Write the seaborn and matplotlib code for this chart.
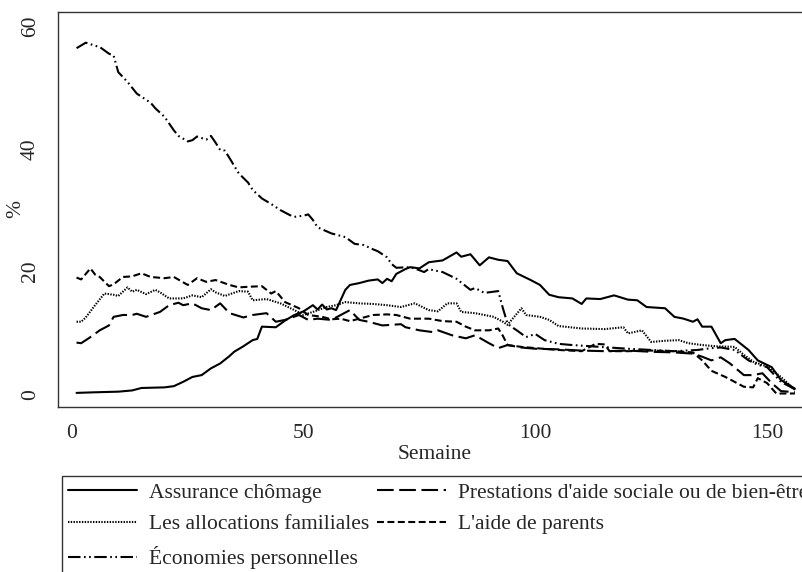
import pandas as pd
import seaborn as sns
import matplotlib.pyplot as plt
from matplotlib.lines import Line2D

# values (weeks, percent)
chomage_weeks = [1, 5, 10, 13, 15, 20, 22, 24, 26, 28, 30, 32, 34, 35, 37, 39, 40, 41, 44, 46,
                 48, 50, 52, 53, 54, 55, 56, 57, 59, 60, 62, 64, 66, 67, 68, 69, 70, 72, 73, 75,
                 77, 80, 83, 84, 86, 88, 90, 92, 94, 96, 99, 101, 103, 105, 108, 110, 111, 114,
                 117, 120, 122, 124, 128, 130, 132, 134, 135, 136, 138, 140, 141, 143, 146, 148,
                 151, 153, 156]
chomage_pct = [0.2, 0.3, 0.4, 0.6, 1.0, 1.1, 1.3, 2.0, 2.8, 3.1, 4.2, 5.0, 6.2, 6.9, 7.8, 8.8, 9.0,
               11.0, 10.9, 12.0, 12.9, 13.5, 14.5, 13.8, 14.6, 13.8, 14.0, 13.7, 17.0, 17.8, 18.1,
               18.5, 18.7, 18.1, 18.8, 18.4, 19.6, 20.4, 20.7, 20.5, 21.5, 21.8, 23.1, 22.4, 22.8,
               21.0, 22.3, 21.9, 21.7, 19.7, 18.6, 17.8, 16.2, 15.8, 15.6, 14.7, 15.6, 15.5, 16.1,
               15.4, 15.3, 14.2, 14.0, 12.6, 12.3, 11.8, 12.2, 11.0, 11.0, 8.3, 8.8, 9.0, 7.2, 5.5,
               4.4, 2.3, 0.9]

social_weeks = [1, 2, 4, 6, 8, 9, 11, 13, 14, 16, 19, 21, 23, 24, 26, 28, 30, 32, 34, 37, 39, 42,
                44, 46, 49, 51, 53, 56, 58, 60, 62, 64, 67, 71, 72, 75, 78, 79, 82, 85, 87, 90,
                92, 94, 97, 100, 105, 110, 115, 120, 125, 130, 134, 136, 138, 140, 142, 145, 147,
                149, 151, 153, 156]
social_pct = [8.4, 8.3, 9.3, 10.4, 11.2, 12.6, 12.9, 12.9, 13.1, 12.6, 13.4, 14.5, 14.9, 14.5,
              14.8, 14.0, 13.7, 14.8, 13.2, 12.5, 12.9, 13.2, 11.8, 12.1, 12.9, 12.1, 12.3, 12.1,
              12.9, 13.7, 12.1, 11.8, 11.2, 11.4, 10.9, 10.4, 10.1, 10.4, 9.6, 9.1, 9.6, 8.3, 7.5,
              8.0, 7.6, 7.4, 7.3, 7.1, 7.0, 7.1, 6.9, 6.8, 6.6, 6.1, 5.5, 6.0, 5.0, 3.1, 3.1, 3.4,
              1.8, 0.5, 0.3]

famille_weeks = [1, 2, 3, 5, 7, 9, 10, 12, 13, 14, 16, 18, 19, 21, 24, 26, 28, 30, 31, 33, 36,
                 38, 39, 42, 45, 48, 50, 52, 55, 57, 59, 62, 65, 68, 71, 74, 77, 79, 81, 83, 84,
                 87, 91, 93, 94, 97, 98, 101, 103, 105, 110, 115, 119, 120, 123, 125, 128, 131,
                 133, 136, 139, 143, 145, 147, 150, 153, 156]
famille_pct = [11.8, 11.8, 12.5, 14.5, 16.4, 16.2, 16.0, 17.4, 16.7, 17.0, 16.3, 17.0, 16.6, 15.6,
               15.6, 16.1, 15.8, 17.1, 16.6, 16.0, 16.8, 16.7, 15.3, 15.5, 14.8, 13.7, 12.9, 13.4,
               14.2, 14.5, 15.0, 14.8, 14.7, 14.5, 14.2, 14.8, 13.7, 13.5, 14.8, 14.8, 13.4, 13.2,
               12.6, 11.8, 11.3, 14.0, 12.9, 12.6, 12.1, 11.1, 10.7, 10.6, 10.9, 9.9, 10.4, 8.5,
               8.7, 8.8, 8.3, 8.0, 7.8, 7.7, 6.4, 5.3, 4.5, 2.8, 0.7]

parents_weeks = [1, 2, 4, 5, 6, 8, 9, 11, 13, 15, 17, 20, 22, 25, 27, 29, 31, 34, 36, 38, 41,
                 43, 44, 46, 49, 51, 54, 56, 58, 60, 62, 65, 68, 70, 73, 77, 80, 83, 85, 87, 90,
                 92, 93, 94, 97, 100, 105, 110, 113, 115, 116, 120, 125, 130, 134, 136, 138, 141,
                 145, 147, 148, 150, 152, 156]
parents_pct = [19.0, 18.7, 20.5, 19.5, 19.1, 17.6, 17.9, 19.1, 19.2, 19.7, 19.1, 18.9, 19.1, 17.8,
               18.9, 18.3, 18.6, 17.8, 17.4, 17.5, 17.6, 16.4, 16.8, 15.0, 14.0, 12.9, 12.6, 12.2,
               12.3, 11.9, 12.3, 12.9, 13.0, 12.9, 12.3, 12.3, 11.9, 11.8, 11.0, 10.4, 10.4, 10.7,
               9.5, 8.0, 7.7, 7.5, 7.2, 7.0, 8.2, 8.1, 7.0, 7.0, 7.1, 7.0, 6.8, 5.5, 3.8, 2.8, 1.2,
               1.1, 2.6, 1.8, 0.1, 0.1]

epargne_weeks = [1, 3, 5, 6, 8, 9, 10, 12, 14, 15, 17, 18, 20, 22, 23, 25, 26, 27, 29, 30, 31,
                 32, 33, 34, 36, 38, 39, 41, 43, 45, 47, 48, 50, 51, 52, 53, 56, 59, 61, 63, 65,
                 66, 68, 69, 70, 73, 75, 76, 77, 78, 80, 83, 86, 87, 89, 92, 93, 94, 95, 96, 98,
                 100, 102, 105, 108, 112, 116, 120, 125, 130, 135, 138, 140, 143, 146, 148, 150,
                 153, 156]
epargne_pct = [56.4, 57.3, 56.8, 56.6, 55.5, 55.2, 52.5, 50.9, 49.0, 48.5, 47.5, 46.6, 45.2, 43.0,
               42.1, 41.2, 41.4, 42.0, 41.5, 42.1, 41.0, 39.8, 39.7, 38.5, 36.0, 34.5, 33.3, 31.9,
               31.0, 30.0, 29.2, 28.9, 29.1, 29.3, 28.4, 27.2, 26.2, 25.6, 24.5, 24.3, 23.6, 23.3,
               22.3, 21.2, 20.6, 20.7, 20.2, 19.9, 20.4, 20.2, 19.9, 18.8, 17.0, 17.3, 16.5, 16.8,
               14.0, 11.5, 10.9, 10.4, 9.3, 9.8, 8.8, 8.2, 8.0, 7.8, 7.6, 7.4, 7.2, 7.0, 7.2, 7.5,
               7.6, 7.2, 5.5, 4.8, 4.4, 2.0, 0.8]

labels = ["Assurance chômage", "Les allocations familiales", "Économies personnelles",
          "Prestations d'aide sociale ou de bien-être", "L'aide de parents"]
dash_map = {
    "Assurance chômage": "",
    "Les allocations familiales": (1, 1),
    "Économies personnelles": (9, 2.5, 1.2, 2.5, 1.2, 2.5),
    "Prestations d'aide sociale ou de bien-être": (12, 4),
    "L'aide de parents": (5, 2.5),
}

series = {
    "Assurance chômage": (chomage_weeks, chomage_pct),
    "Les allocations familiales": (famille_weeks, famille_pct),
    "Économies personnelles": (epargne_weeks, epargne_pct),
    "Prestations d'aide sociale ou de bien-être": (social_weeks, social_pct),
    "L'aide de parents": (parents_weeks, parents_pct),
}
frames = []
for name, (w, v) in series.items():
    frames.append(pd.DataFrame({"Semaine": w, "pct": v, "serie": name}))
df = pd.concat(frames, ignore_index=True)

sns.set_style("white")
plt.rcParams['font.family'] = ['Liberation Serif', 'DejaVu Serif']
plt.rcParams['lines.scale_dashes'] = False
FS = 15.5

fig = plt.figure(figsize=(8.02, 5.72), dpi=100)
ax = fig.add_axes([58 / 802, 165 / 572, 754 / 802, 395 / 572])

sns.lineplot(data=df, x="Semaine", y="pct", style="serie", style_order=labels,
             dashes=dash_map, color="black", linewidth=1.5, estimator=None,
             legend=False, ax=ax)

ax.set_xlim(-3.0, 159.7)
ax.set_ylim(-2.1, 62.3)
ax.set_xticks([0, 50, 100, 150])
ax.set_yticks([0, 20, 40, 60])
ax.tick_params(axis="both", direction="out", length=8, width=1, labelsize=FS,
               color="#333333")
ax.tick_params(axis="x", pad=4)
ax.tick_params(axis="y", pad=5)
for lab in ax.get_yticklabels():
    lab.set_rotation(90)
    lab.set_va("center")
for s in ax.spines.values():
    s.set_color("#333333")
    s.set_linewidth(1.0)
ax.spines["right"].set_visible(False)
ax.set_xlabel("Semaine", fontsize=FS, labelpad=2)
ax.set_ylabel("%", fontsize=FS)
ax.yaxis.set_label_coords(-0.044, 0.5)

handles = [Line2D([], [], color="black", linewidth=1.5,
                  linestyle=(0, dash_map[n]) if dash_map[n] else "-") for n in labels]
leg = fig.legend(handles, labels, ncol=2, loc="upper left",
                 bbox_to_anchor=(62 / 802, 1 - 476 / 572), fontsize=FS,
                 frameon=True, fancybox=False, edgecolor="black", handlelength=3.2,
                 handletextpad=0.55, columnspacing=0.35, labelspacing=0.55,
                 borderpad=0.3, borderaxespad=0)
leg.get_frame().set_linewidth(1.0)

fig.savefig("out.png", dpi=100)
